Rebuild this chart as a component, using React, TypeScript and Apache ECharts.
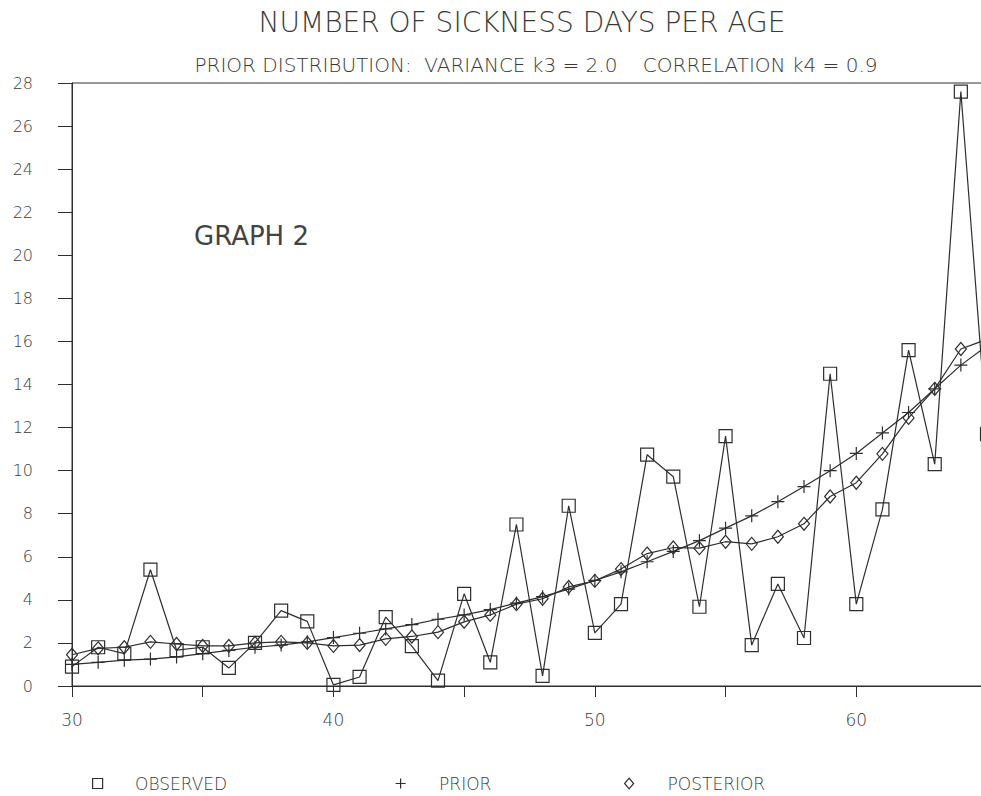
import React, { useEffect, useRef } from "react";
import * as echarts from "echarts";

const ages: number[] = [30,31,32,33,34,35,36,37,38,39,40,41,42,43,44,45,46,47,48,49,50,51,52,53,54,55,56,57,58,59,60,61,62,63,64,65];
const observed: number[] = [0.9,1.8,1.5,5.4,1.67,1.8,0.84,2.0,3.5,3.0,0.05,0.42,3.2,1.85,0.25,4.28,1.1,7.5,0.47,8.37,2.47,3.8,10.74,9.72,3.68,11.6,1.9,4.74,2.23,14.5,3.8,8.2,15.6,10.3,27.6,11.7];
const prior: number[] = [1.0,1.1,1.2,1.25,1.35,1.5,1.65,1.8,1.9,2.05,2.25,2.45,2.65,2.85,3.1,3.3,3.55,3.85,4.15,4.5,4.9,5.3,5.77,6.25,6.75,7.33,7.9,8.56,9.26,10.0,10.8,11.75,12.7,13.8,14.9,15.8];
const posterior: number[] = [1.45,1.75,1.8,2.05,1.95,1.86,1.86,2.0,2.05,2.0,1.86,1.9,2.19,2.3,2.5,2.98,3.3,3.8,4.05,4.6,4.88,5.43,6.15,6.43,6.4,6.7,6.6,6.93,7.53,8.8,9.44,10.78,12.45,13.8,15.65,16.1];
const yTicks = { min: 0, max: 28, interval: 2 };
const xTicks = { min: 30, max: 65, interval: 5, labelEvery: 10 };

const INK = "#2e2e2e";
const TEXT = "#3a3a3a";
const FONT = "DejaVu Sans";
const SQUARE = "path://M0,0L10,0L10,10L0,10Z";
const PLUS = "path://M0,5L10,5M5,0L5,10";
const DIAMOND = "path://M5,0L10,6L5,12L0,6Z";

export default function App() {
  const ref = useRef<HTMLDivElement>(null);
  useEffect(() => {
    if (!ref.current) return;
    const chart = echarts.init(ref.current, undefined, { renderer: "svg" });
    const mk = (vals: number[]) => ages.map((a, i) => [a, vals[i]]);
    const symStyle = { color: "rgba(0,0,0,0)", borderColor: INK, borderWidth: 1.2 };
    const legendBase = {
      top: 775,
      padding: 0,
      itemWidth: 11,
      itemHeight: 10,
      itemGap: 0,
      selectedMode: false,
    };
    const legendText = (pad: number) => ({
      fontFamily: FONT, fontSize: 17, fontWeight: 200, color: TEXT, padding: [0, 0, 0, pad],
    });
    chart.setOption({
      animation: false,
      backgroundColor: "#fff",
      title: [
        {
          text: "NUMBER OF SICKNESS DAYS PER AGE",
          left: 517,
          textAlign: "center",
          top: 3,
          textStyle: { fontFamily: FONT, fontSize: 28, fontWeight: 200, color: TEXT },
        },
        {
          text: "PRIOR DISTRIBUTION:  VARIANCE k3 = 2.0    CORRELATION k4 = 0.9",
          left: 531,
          textAlign: "center",
          top: 50,
          textStyle: { fontFamily: FONT, fontSize: 20, fontWeight: 200, color: TEXT },
        },
      ],
      graphic: [
        {
          type: "text",
          left: 194,
          top: 223,
          style: { text: "GRAPH 2", fontFamily: FONT, fontSize: 26, fill: "#444" },
        },
      ],
      legend: [
        { ...legendBase, left: 92, textStyle: legendText(27), data: [{ name: "OBSERVED", icon: SQUARE, itemStyle: symStyle }] },
        { ...legendBase, left: 395, textStyle: legendText(28), data: [{ name: "PRIOR", icon: PLUS, itemStyle: symStyle }] },
        { ...legendBase, left: 624, itemWidth: 9, itemHeight: 12, textStyle: legendText(29), data: [{ name: "POSTERIOR", icon: DIAMOND, itemStyle: symStyle }] },
      ],
      grid: { left: 72, top: 83, bottom: 110, right: 8, show: true, borderColor: INK, borderWidth: 1 },
      xAxis: {
        type: "value",
        min: xTicks.min,
        max: xTicks.max,
        interval: xTicks.interval,
        axisLine: { lineStyle: { color: INK, width: 1 } },
        axisTick: { length: 11, lineStyle: { color: INK } },
        splitLine: { show: false },
        axisLabel: {
          margin: 25,
          fontFamily: FONT,
          fontSize: 17,
          fontWeight: 200,
          color: TEXT,
          formatter: (v: number) => (v % xTicks.labelEvery === 0 ? String(v) : ""),
        },
      },
      yAxis: {
        type: "value",
        min: yTicks.min,
        max: yTicks.max,
        interval: yTicks.interval,
        axisLine: { show: true, lineStyle: { color: INK, width: 1 } },
        axisTick: { show: true, length: 14, lineStyle: { color: INK } },
        splitLine: { show: false },
        axisLabel: { margin: 39, fontFamily: FONT, fontSize: 16, fontWeight: 200, color: TEXT },
      },
      series: [
        {
          name: "OBSERVED",
          type: "line",
          data: mk(observed),
          symbol: SQUARE,
          symbolSize: 13,
          lineStyle: { color: INK, width: 1.2 },
          itemStyle: symStyle,
          z: 3,
        },
        {
          name: "PRIOR",
          type: "line",
          data: mk(prior),
          symbol: PLUS,
          symbolSize: 13,
          lineStyle: { color: INK, width: 1.2 },
          itemStyle: symStyle,
          z: 2,
        },
        {
          name: "POSTERIOR",
          type: "line",
          data: mk(posterior),
          symbol: DIAMOND,
          symbolSize: [11, 13],
          lineStyle: { color: INK, width: 1.2 },
          itemStyle: symStyle,
          z: 2,
        },
      ],
    });
    return () => chart.dispose();
  }, []);
  return (
    <div style={{ position: "absolute", left: 0, top: 0, width: 981, height: 796, overflow: "hidden" }}>
      <div ref={ref} style={{ width: 995, height: 796 }} />
    </div>
  );
}
